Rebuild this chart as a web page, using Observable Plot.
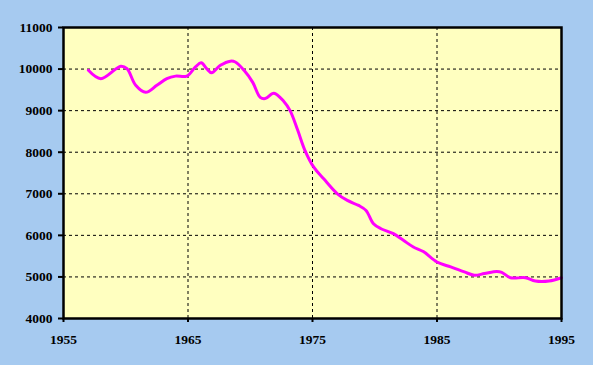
<!DOCTYPE html>
<html>
<head>
<meta charset="utf-8">
<script src="https://cdn.jsdelivr.net/npm/d3@7"></script>
<script src="https://cdn.jsdelivr.net/npm/@observablehq/plot@0.6"></script>
<style>
  html, body { margin: 0; padding: 0; background: #A6CAF0; }
  #chart svg { display: block; }
</style>
</head>
<body>
<div id="chart"></div>
<script>
const years = [1957.0,1958.0,1959.6,1960.1,1960.8,1961.6,1962.5,1963.3,1964.0,1964.9,1965.6,1966.06,1966.5,1966.9,1967.6,1968.4,1968.8,1969.5,1970.2,1970.8,1971.2,1971.9,1972.7,1973.2,1973.8,1974.4,1975.1,1975.9,1977.0,1977.8,1978.7,1979.3,1979.9,1980.5,1981.5,1982.3,1983.1,1983.9,1985.0,1986.1,1987.2,1988.0,1988.8,1989.8,1990.2,1990.9,1992.1,1992.9,1994.0,1995.0];
const values = [9970,9770,10070,10010,9610,9440,9610,9770,9830,9830,10050,10150,10010,9910,10090,10190,10170,9970,9680,9320,9290,9420,9220,9000,8540,8040,7640,7360,7000,6840,6720,6600,6280,6160,6040,5880,5720,5610,5360,5240,5120,5040,5080,5130,5110,4980,4980,4900,4900,4980];
const xTicks = [1955, 1965, 1975, 1985, 1995];
const xGrid = [1965, 1975, 1985];
const yTicks = [4000, 5000, 6000, 7000, 8000, 9000, 10000, 11000];

const data = years.map((y, i) => ({year: y, value: values[i]}));
const FONT = "'Liberation Serif', 'Times New Roman', serif";

const chart = Plot.plot({
  width: 593,
  height: 365,
  marginLeft: 63,
  marginRight: 32,
  marginTop: 27,
  marginBottom: 47,
  style: {background: "#A6CAF0", color: "black", fontFamily: FONT, fontSize: "13.5px", fontWeight: "bold"},
  x: {domain: [1955, 1995]},
  y: {domain: [4000, 11000]},
  marks: [
    Plot.frame({fill: "#FFFFC0", stroke: null}),
    Plot.gridY(yTicks.slice(1, -1), {stroke: "black", strokeOpacity: 1, strokeDasharray: "3,3"}),
    Plot.gridX(xGrid, {stroke: "black", strokeOpacity: 1, strokeDasharray: "3,3"}),
    Plot.line(data, {x: "year", y: "value", stroke: "#FF00FF", strokeWidth: 3, curve: "catmull-rom"}),
    Plot.frame({stroke: "black", strokeWidth: 2.5}),
    Plot.axisY(yTicks, {tickSize: 5, tickPadding: 6, strokeWidth: 2, label: null, tickFormat: d => String(d), fontSize: 13.5, fontFamily: FONT, fontWeight: "bold"}),
    Plot.axisX(xTicks, {tickSize: 4, tickPadding: 12, strokeWidth: 2, label: null, tickFormat: d => String(d), fontSize: 13.5, fontFamily: FONT, fontWeight: "bold"})
  ]
});
chart.querySelectorAll("text, g[aria-label$='tick label']").forEach(el => {
  el.setAttribute("font-size", "13.5");
  el.setAttribute("font-family", FONT);
  el.setAttribute("font-weight", "bold");
  el.style.fontSize = "13.5px";
  el.style.fontFamily = FONT;
  el.style.fontWeight = "bold";
});
document.getElementById("chart").appendChild(chart);
</script>
</body>
</html>
